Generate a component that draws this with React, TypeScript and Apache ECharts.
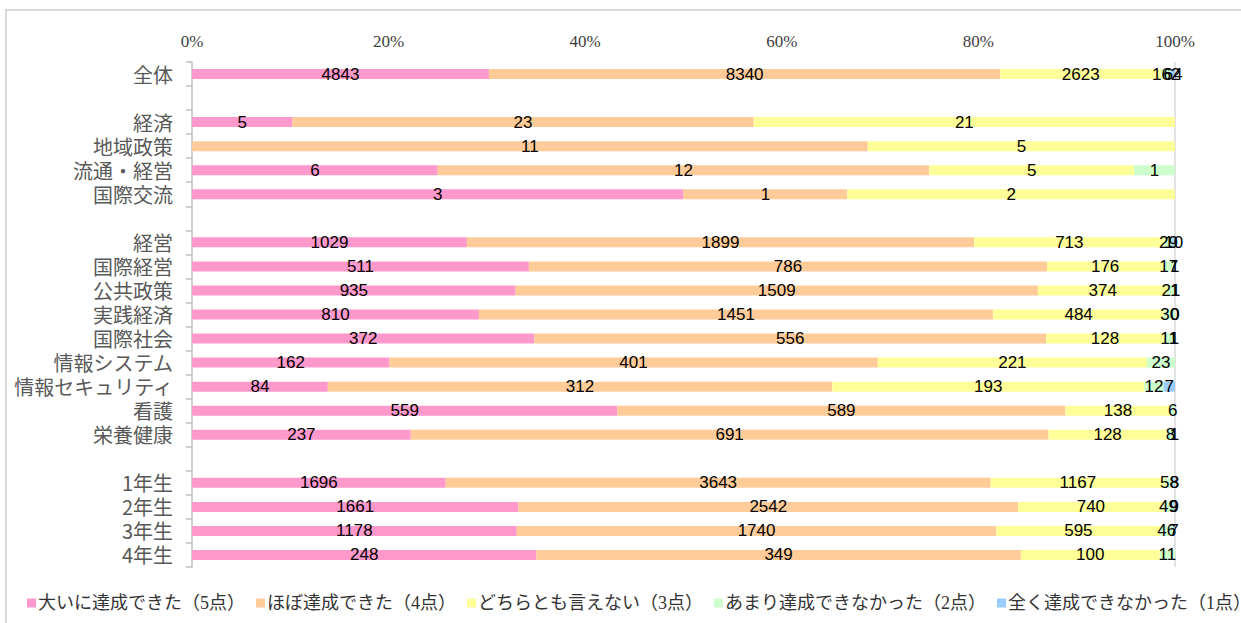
import React, { useEffect, useRef } from "react";
import * as echarts from "echarts";

const categories = [
  "全体", "", "経済", "地域政策", "流通・経営", "国際交流", " ",
  "経営", "国際経営", "公共政策", "実践経済", "国際社会", "情報システム",
  "情報セキュリティ", "看護", "栄養健康", "  ", "1年生", "2年生", "3年生", "4年生",
];

const seriesNames = [
  "大いに達成できた（5点）",
  "ほぼ達成できた（4点）",
  "どちらとも言えない（3点）",
  "あまり達成できなかった（2点）",
  "全く達成できなかった（1点）",
];

const score5 = [4843, null, 5, null, 6, 3, null, 1029, 511, 935, 810, 372, 162, 84, 559, 237, null, 1696, 1661, 1178, 248];
const score4 = [8340, null, 23, 11, 12, 1, null, 1899, 786, 1509, 1451, 556, 401, 312, 589, 691, null, 3643, 2542, 1740, 349];
const score3 = [2623, null, 21, 5, 5, 2, null, 713, 176, 374, 484, 128, 221, 193, 138, 128, null, 1167, 740, 595, 100];
const score2 = [162, null, null, null, 1, null, null, 29, 17, 21, 30, 11, 23, 12, 6, 8, null, 58, 49, 46, 11];
const score1 = [64, null, null, null, null, null, null, 10, 1, 1, 0, 1, null, 7, null, 1, null, 8, 9, 7, null];

const axisTicks = [0, 0.2, 0.4, 0.6, 0.8, 1];

const colors = ["#FF99CC", "#FFCC99", "#FFFF99", "#CCFFCC", "#99CCFF"];

export default function App() {
  const ref = useRef<HTMLDivElement>(null);

  useEffect(() => {
    if (!ref.current) return;
    const chart = echarts.init(ref.current, undefined, { renderer: "svg" });
    const raw = [score5, score4, score3, score2, score1];
    const totals = categories.map((_, i) =>
      raw.reduce((s, arr) => s + (arr[i] == null ? 0 : (arr[i] as number)), 0)
    );

    const series = raw.map((arr, si) => ({
      name: seriesNames[si],
      type: "bar",
      stack: "total",
      barWidth: 10,
      itemStyle: { color: colors[si] },
      label: {
        show: true,
        position: "inside",
        color: "#000",
        fontSize: 17,
        fontFamily: "Liberation Sans",
        formatter: (p: any) => {
          const v = arr[p.dataIndex];
          return v == null ? "" : String(v);
        },
      },
      emphasis: { disabled: true },
      data: arr.map((v, i) => (v == null || totals[i] === 0 ? null : (v as number) / totals[i])),
    }));

    chart.setOption({
      animation: false,
      color: colors,
      graphic: [
        {
          type: "rect",
          shape: { x: 6, y: 10, width: 1400, height: 800 },
          style: { fill: "none", stroke: "#d9d9d9", lineWidth: 2 },
          silent: true,
        },
      ],
      grid: { left: 192, right: 66, top: 62, height: 505, containLabel: false },
      xAxis: {
        type: "value",
        position: "top",
        min: 0,
        max: 1,
        interval: 0.2,
        axisLine: { show: false },
        axisTick: { show: false },
        splitLine: {
          show: true,
          lineStyle: {
            color: ["rgba(0,0,0,0)", "rgba(0,0,0,0)", "rgba(0,0,0,0)", "rgba(0,0,0,0)", "rgba(0,0,0,0)", "#d9d9d9"],
            width: 1.5,
          },
        },
        axisLabel: {
          margin: 12,
          color: "#404040",
          fontSize: 17,
          fontFamily: "Liberation Serif",
          formatter: (v: number) => {
            const t = axisTicks.find((x) => Math.abs(x - v) < 1e-9);
            return Math.round((t ?? v) * 100) + "%";
          },
        },
      },
      yAxis: {
        type: "category",
        inverse: true,
        data: categories,
        axisLine: { show: true, lineStyle: { color: "#bfbfbf", width: 1.5 } },
        axisTick: { show: true, length: 6, interval: 0, lineStyle: { color: "#bfbfbf", width: 1.5 } },
        axisLabel: {
          interval: 0,
          margin: 19,
          color: "#595959",
          fontSize: 20,
          fontFamily: "Noto Sans CJK JP",
        },
      },
      legend: {
        left: 22,
        top: 589,
        width: 3000,
        itemWidth: 9,
        itemHeight: 9,
        itemGap: 11,
        icon: "rect",
        textStyle: {
          color: "#333333",
          fontSize: 18,
          fontFamily: "Liberation Serif, Noto Sans CJK JP",
          padding: [0, 0, 0, -3],
        },
        data: seriesNames,
      },
      series,
    });

    return () => chart.dispose();
  }, []);

  return (
    <div
      ref={ref}
      style={{ position: "absolute", left: 0, top: 0, width: 1241, height: 623, background: "#fff" }}
    />
  );
}
